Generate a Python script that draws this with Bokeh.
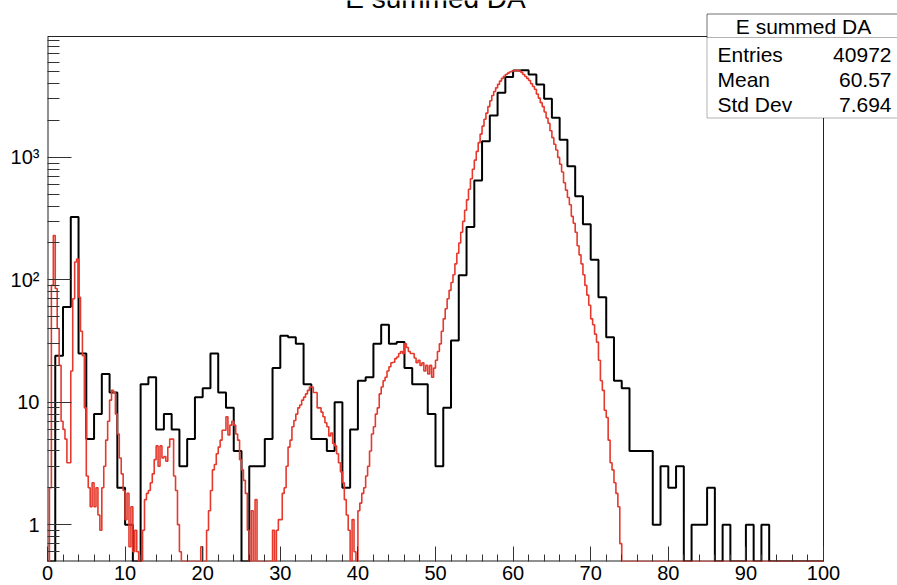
import numpy as np
from bokeh.plotting import figure
from bokeh.models import FixedTicker, BoxAnnotation, Label
from bokeh.embed import file_html
from bokeh.resources import INLINE

# ---------------- data ----------------
X_MIN, X_MAX = 0.0, 100.0
Y_MIN, Y_MAX = 0.5, 9720.0

# black histogram: 100 bins of width 1 (counts)
black_counts = [0, 24, 60, 326, 25, 5, 8, 17, 12, 2,
                1, 0, 14, 16, 6, 8, 6, 3, 5, 11,
                13, 25, 12, 9, 4, 0, 3, 3, 5, 19,
                35, 34, 30, 14, 5, 5, 4, 10, 2, 6,
                15, 16, 30, 43, 30, 31, 19, 14, 14, 8,
                3, 9, 32, 109, 270, 649, 1352, 2203, 3375, 4530,
                5130, 5160, 4760, 3945, 3015, 2110, 1394, 845, 481, 284,
                146, 72, 34, 15, 13, 4, 4, 4, 1, 3,
                2, 3, 0, 1, 1, 2, 0, 1, 0, 0,
                1, 0, 1, 0, 0, 0, 0, 0, 0, 0]

# red histogram: 400 bins of width 0.25 (scaled contents)
red_counts = [
    0, 2, 90, 230,            # 0
    85, 40, 20, 7,            # 1
    6, 5, 3.2, 3.2,           # 2
    18, 70, 140, 148,         # 3
    72, 38, 24, 9,            # 4
    2.5, 2.0, 1.4, 2.2,       # 5
    1.4, 2.0, 1.2, 0.9,       # 6
    2.0, 3.0, 4.9, 7.0,       # 7
    10.4, 12.5, 12, 8,        # 8
    5.5, 3.5, 2.6, 1.9,       # 9
    1.1, 1.8, 0.66, 1.4,      # 10
    0.6, 0.9, 0.6, 0,         # 11
    0, 0.9, 1.6, 1.8,         # 12
    1.9, 2.2, 2.6, 3.4,       # 13
    4.4, 3.0, 4.4, 3.5,       # 14
    3.6, 3.3, 4.3, 5.0,       # 15
    5.0, 2.5, 1.9, 1.0,       # 16
    0.6, 0, 0, 0,             # 17
    0, 0, 0, 0,               # 18
    0, 0, 0, 0.66,            # 19
    0, 0, 0.9, 1.3,           # 20
    1.9, 2.8, 3.1, 3.8,       # 21
    4.3, 4.9, 5.9, 5.9,       # 22
    7.6, 5.4, 6.5, 7.0,       # 23
    6.5, 5.5, 4.9, 3.4,       # 24
    2.8, 2.3, 1.8, 0.9,       # 25
    0, 1.3, 0, 1.6,           # 26
    0, 0, 0, 0,               # 27
    0, 0, 0, 0,               # 28
    0.9, 0, 0.9, 1.1,         # 29
    1.1, 1.8, 2.0, 3.0,       # 30
    4.3, 4.9, 6.3, 7.1,       # 31
    8.0, 9.0, 9.5, 10.4,      # 32
    11, 11.7, 12.5, 13.3,     # 33
    13.3, 12, 12, 9,          # 34
    9, 8.3, 7.6, 6.8,         # 35
    6.3, 5.3, 5.6, 4.6,       # 36
    4.4, 3.8, 3.2, 2.7,       # 37
    2.2, 1.6, 1.2, 0.9,       # 38
    0, 1.1, 0.6, 0,           # 39
    1.3, 1.5, 1.8, 2.0,       # 40
    2.5, 3.0, 4.0, 5.5,       # 41
    6.3, 8.0, 9.0, 11.7,      # 42
    13.3, 15, 16, 18,         # 43
    19.5, 21, 21.2, 22.7,     # 44
    23.4, 25, 26, 25,         # 45
    30, 28, 26, 25,           # 46
    25, 23, 21, 22,           # 47
    20, 21, 18, 20,           # 48
    17, 20, 16, 19,           # 49
    22, 26, 30, 38,           # 50
    48, 58, 70, 82,           # 51
    95, 110, 135, 165,        # 52
    200, 245, 300, 370,       # 53
    450, 550, 670, 800,       # 54
    950, 1120, 1320, 1550,    # 55
    1800, 2050, 2300, 2600,   # 56
    2900, 3200, 3450, 3700,   # 57
    3950, 4200, 4420, 4600,   # 58
    4750, 4880, 4980, 5060,   # 59
    5110, 5140, 5130, 5080,   # 60
    4950, 4750, 4580, 4420,   # 61
    4250, 4000, 3800, 3600,   # 62
    3300, 3050, 2800, 2600,   # 63
    2350, 2100, 1900, 1650,   # 64
    1450, 1280, 1150, 1000,   # 65
    880, 760, 620, 540,       # 66
    470, 410, 330, 290,       # 67
    245, 190, 160, 135,       # 68
    110, 90, 75, 62,          # 69
    48, 43, 36, 31,           # 70
    22, 15, 12.5, 8.6,        # 71
    7.5, 4.9, 3.2, 2.8,       # 72
    2.2, 1.8, 1.4, 0.7,       # 73
] + [0.0] * 104               # 74 .. 100 empty

x_ticks = [0, 10, 20, 30, 40, 50, 60, 70, 80, 90, 100]
y_ticks = [1, 10, 100, 1000]
y_tick_labels = ["1", "10", "10\u00b2", "10\u00b3"]

title_text = "E summed DA"
stats_title = "E summed DA"
stats_names = ["Entries", "Mean", "Std Dev"]
stats_values = ["40972", "60.57", "7.694"]

FONT = "Liberation Sans"

# ---------------- geometry (pixels) ----------------
CANVAS_W = 897
LEFT = 47            # frame (data) left edge
PLOT_RIGHT = 823     # right edge of the drawn histogram frame
PLOT_TOP = 36        # top edge of the drawn histogram frame
FRAME_H = 561        # bokeh frame height (extends to the canvas top)
FRAME_W = CANVAS_W - LEFT

# extend ranges so the bokeh frame covers the title / stats box area
x_end = X_MIN + (X_MAX - X_MIN) * FRAME_W / (PLOT_RIGHT - LEFT)
decades = np.log10(Y_MAX / Y_MIN)
y_top = Y_MAX * 10 ** (PLOT_TOP * decades / (FRAME_H - PLOT_TOP))

p = figure(frame_width=FRAME_W, frame_height=FRAME_H, y_axis_type="log",
           x_range=(X_MIN, x_end), y_range=(Y_MIN, y_top),
           output_backend="svg", toolbar_location=None,
           min_border_left=LEFT, min_border_right=0,
           min_border_top=0, min_border_bottom=0)
p.background_fill_color = "white"
p.border_fill_color = "white"
p.xgrid.visible = False
p.ygrid.visible = False
p.outline_line_color = None

AX_COL = "#222222"
# histogram frame (drawn as lines, since bokeh's frame is larger)
p.line([X_MIN, X_MAX, X_MAX], [Y_MAX, Y_MAX, Y_MIN], line_color=AX_COL, line_width=1)
p.line([X_MIN, X_MIN], [Y_MIN, Y_MAX], line_color=AX_COL, line_width=2)
p.line([X_MIN, X_MAX], [Y_MIN, Y_MIN], line_color=AX_COL, line_width=2)


def step_xy(counts, lo, hi):
    n = len(counts)
    edges = np.linspace(lo, hi, n + 1)
    y = np.asarray(counts, dtype=float)
    y = np.where(y > 0, y, Y_MIN)
    y = np.append(y, y[-1])
    return edges, y


bx, by = step_xy(black_counts, X_MIN, X_MAX)
p.step(bx, by, mode="after", line_color="black", line_width=2)
rx, ry = step_xy(red_counts, X_MIN, X_MAX)
p.step(rx, ry, mode="after", line_color="#e5392d", line_width=1.6)

# ---------------- axes ----------------
x_minor = [v for v in range(0, 101, 2) if v % 10 != 0]
p.xaxis.ticker = FixedTicker(ticks=x_ticks, minor_ticks=x_minor)
p.xaxis.major_tick_in = 15
p.xaxis.major_tick_out = 0
p.xaxis.minor_tick_in = 7
p.xaxis.minor_tick_out = 0
p.xaxis.major_label_standoff = 4
p.xaxis.major_label_text_font = FONT
p.xaxis.major_label_text_font_size = "20px"
p.xaxis.major_label_text_color = "black"

y_minor = [m * 10.0 ** e for e in range(-1, 4) for m in range(2, 10)
           if Y_MIN < m * 10.0 ** e < Y_MAX]
p.yaxis.ticker = FixedTicker(ticks=y_ticks, minor_ticks=y_minor)
p.yaxis.major_label_overrides = {t: s for t, s in zip(y_ticks, y_tick_labels)}
p.yaxis.major_tick_in = 24
p.yaxis.major_tick_out = 0
p.yaxis.minor_tick_in = 12
p.yaxis.minor_tick_out = 0
p.yaxis.major_label_standoff = 8
p.yaxis.major_label_text_font = FONT
p.yaxis.major_label_text_font_size = "20px"
p.yaxis.major_label_text_color = "black"

for ax in (p.xaxis, p.yaxis):
    ax.axis_line_color = None
    ax.major_tick_line_color = "#333333"
    ax.minor_tick_line_color = "#333333"
    ax.major_tick_line_width = 1
    ax.minor_tick_line_width = 1

# ---------------- title (cut by the top edge, as in the reference) --------
p.add_layout(Label(x=435, y=-2, x_units="canvas", y_units="canvas",
                   text=title_text, text_align="center",
                   text_baseline="alphabetic", text_font=FONT,
                   text_font_size="28px", text_color="black"))

# ---------------- stats box ----------------
box_l, box_r, box_t, box_b, sep = 706.5, 900, 13.5, 117.5, 37
p.add_layout(BoxAnnotation(left=box_l, right=box_r, top=box_t, bottom=box_b,
                           left_units="canvas", right_units="canvas",
                           top_units="canvas", bottom_units="canvas",
                           fill_color="white", fill_alpha=1.0,
                           line_color="black", line_width=1))
p.add_layout(BoxAnnotation(left=box_l, right=box_r, top=box_t, bottom=sep,
                           left_units="canvas", right_units="canvas",
                           top_units="canvas", bottom_units="canvas",
                           fill_alpha=0.0, line_color="black", line_width=1))
p.add_layout(Label(x=803, y=26, x_units="canvas", y_units="canvas",
                   text=stats_title, text_align="center", text_baseline="middle",
                   text_font=FONT, text_font_size="21px", text_color="black"))
for i, (nm, vl) in enumerate(zip(stats_names, stats_values)):
    yy = 54 + 25 * i
    p.add_layout(Label(x=717, y=yy, x_units="canvas", y_units="canvas",
                       text=nm, text_align="left", text_baseline="middle",
                       text_font=FONT, text_font_size="21px", text_color="black"))
    p.add_layout(Label(x=891, y=yy, x_units="canvas", y_units="canvas",
                       text=vl, text_align="right", text_baseline="middle",
                       text_font=FONT, text_font_size="21px", text_color="black"))

open("out.html", "w").write(file_html(p, INLINE))
